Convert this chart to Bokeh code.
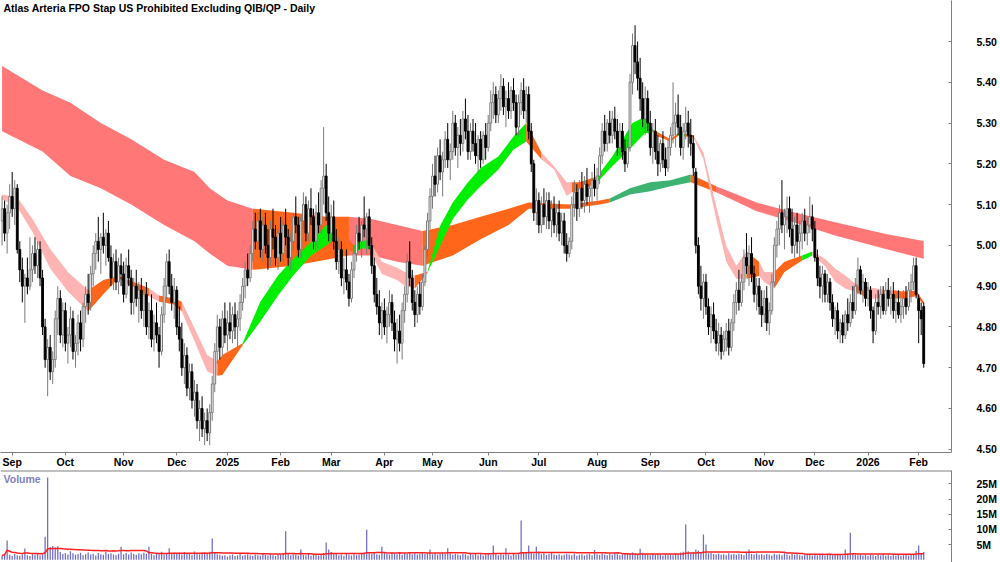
import numpy as np
import pandas as pd
from bokeh.plotting import figure
from bokeh.layouts import column
from bokeh.models import Range1d, FixedTicker, NumeralTickFormatter, Span
from bokeh.core.properties import value
from bokeh.embed import file_html
from bokeh.resources import INLINE

title = "Atlas Arteria FPO Stap US Prohibited Excluding QIB/QP - Daily"
month_idx = [4, 25, 48, 69, 89, 110, 130, 151, 170, 192, 212, 235, 256, 278, 301, 321, 342, 362]
month_lbl = ["Sep", "Oct", "Nov", "Dec", "2025", "Feb", "Mar", "Apr", "May", "Jun",
             "Jul", "Aug", "Sep", "Oct", "Nov", "Dec", "2026", "Feb"]
price_ticks = [4.5, 4.6, 4.7, 4.8, 4.9, 5.0, 5.1, 5.2, 5.3, 5.4, 5.5]
vol_ticks = [5e6, 10e6, 15e6, 20e6, 25e6]
vol_tick_lbl = ["5M", "10M", "15M", "20M", "25M"]

# daily prices in cents
opens_c = [506,509,503,508,512,509,514,499,494,490, 492,490,494,498,495,499,492,480,472,475,
           469,472,482,487,478,484,476,478,482,474, 476,481,477,485,488,486,493,498,501,499,
           502,500,503,497,492,496,491,495,493,488, 495,492,486,490,487,489,484,488,480,484,
           477,481,478,474,483,490,496,490,486,489, 480,477,470,473,465,469,462,464,457,460,
           455,457,454,459,466,474,480,475,482,478, 481,479,483,480,482,486,490,494,492,498,
           504,501,506,499,505,500,497,504,502,497, 503,498,505,502,497,501,507,505,499,506,
           510,503,509,507,501,508,505,514,517,508, 503,507,501,496,499,492,494,491,487,494,
           498,503,501,505,504,507,500,495,488,485, 481,484,480,483,486,481,477,479,476,484,
           488,496,492,486,483,488,485,491,499,506, 512,517,515,522,518,521,526,521,523,530,
           524,527,525,531,528,523,528,525,522,526, 521,527,524,530,535,537,532,536,539,534,
           536,533,538,535,529,535,538,533,537,528, 520,508,511,505,510,507,511,506,509,505,
           508,503,506,500,498,501,510,513,509,514, 511,515,512,514,516,514,517,522,528,525,
           530,527,531,528,524,528,523,520,524,540, 549,545,541,536,531,536,530,524,528,523,
           520,525,521,519,524,527,530,532,529,524, 528,530,527,525,518,500,490,487,491,485,
           480,483,479,476,478,474,477,479,475,481, 486,489,486,491,497,495,498,493,488,490,
           485,483,487,481,484,491,500,504,508,505, 507,509,504,500,505,501,503,506,503,505,
           507,504,497,492,490,493,488,491,486,482, 484,479,481,478,483,481,486,484,490,494,
           489,491,487,489,484,479,486,485,488,484, 489,487,488,484,486,483,485,487,485,489,
           491,495,487,484,485]
highs_c = [512,511,510,515,518,516,515,501,497,493, 497,502,500,502,501,501,494,482,477,478,
           474,484,490,489,486,486,480,485,484,478, 483,484,486,490,493,495,500,503,507,503,
           508,504,506,500,498,499,497,498,496,497, 499,494,492,494,491,492,490,491,486,488,
           483,486,480,485,492,498,499,493,492,490, 485,481,476,475,471,471,467,466,462,463,
           459,460,461,468,476,483,482,484,486,484, 486,485,486,484,488,492,496,498,500,506,
           508,508,509,507,508,504,506,509,505,504, 507,506,509,504,503,508,512,507,507,513,
           512,511,514,509,510,513,516,529,520,512, 510,511,504,502,501,497,499,493,496,500,
           505,507,506,512,508,509,502,497,492,489, 486,487,485,489,488,484,482,483,486,490,
           498,501,494,489,490,491,493,500,508,514, 520,522,524,526,523,528,530,525,533,532,
           529,531,533,536,532,530,531,530,527,528, 528,530,532,538,540,539,538,542,541,538,
           540,539,541,537,537,540,541,539,539,530, 521,514,513,512,514,513,513,511,512,510,
           511,508,508,503,502,512,516,515,516,518, 517,519,516,518,520,519,524,530,532,531,
           533,533,534,531,530,530,526,526,542,552, 554,550,546,540,539,538,533,530,531,527,
           526,528,524,526,529,540,535,537,532,530, 534,533,531,527,519,502,495,493,493,487,
           485,486,482,481,480,479,481,482,482,488, 491,494,493,499,503,500,502,495,492,492,
           489,489,490,486,493,502,506,510,516,509, 512,512,509,507,508,506,508,509,507,512,
           510,506,499,495,495,494,493,492,488,485, 486,482,483,484,487,488,490,492,497,495,
           493,492,491,490,485,488,489,490,490,491, 492,490,491,488,489,487,489,490,491,493,
           497,497,488,486,486]
lows_c = [500,501,498,504,507,505,498,491,486,481, 488,489,491,493,492,490,478,470,463,467,
          466,470,478,476,475,474,471,475,472,470, 473,474,475,481,483,484,490,494,496,493,
          498,495,496,490,489,489,488,490,486,487, 490,483,483,485,481,482,480,478,477,475,
          474,476,470,473,481,487,488,484,482,478, 474,468,466,463,462,460,458,455,452,453,
          451,452,451,457,464,471,472,473,476,474, 477,476,477,475,479,484,487,490,491,496,
          499,499,497,496,498,494,495,499,495,494, 496,496,500,495,494,499,503,497,497,504,
          501,501,505,499,499,503,503,510,506,501, 500,499,494,493,490,488,489,485,486,492,
          496,499,497,502,498,499,493,486,483,478, 477,478,476,480,479,474,471,474,472,481,
          486,490,484,480,481,483,484,490,497,504, 509,512,513,516,512,519,519,516,521,522,
          519,522,523,526,521,521,523,520,518,519, 520,521,523,528,531,530,530,533,532,529,
          531,531,533,527,527,532,531,530,526,518, 506,505,503,503,505,504,504,502,503,502,
          501,500,498,496,497,499,507,506,507,509, 508,510,508,510,512,511,515,520,523,523,
          525,525,526,522,522,521,518,519,523,537, 542,538,533,529,527,528,522,520,521,517,
          518,519,517,518,522,525,524,527,522,521, 526,524,522,517,498,488,484,482,483,478,
          476,477,474,473,472,473,474,473,474,479, 483,484,485,489,493,490,491,486,484,483,
          480,481,479,478,483,490,497,500,503,499, 503,502,498,497,498,497,499,501,500,503,
          501,496,490,487,486,486,486,484,480,478, 477,476,476,477,479,480,482,483,488,488,
          486,485,485,482,476,478,483,482,483,483, 485,483,482,481,482,481,482,483,484,486,
          489,487,476,478,470]
closes_c = [509,503,508,512,509,514,499,494,490,492, 490,494,498,495,499,492,480,472,475,469,
            472,482,487,478,484,476,478,482,474,476, 481,477,485,488,486,493,498,501,499,502,
            500,503,497,492,496,491,495,493,488,495, 492,486,490,487,489,484,488,480,484,477,
            481,478,474,483,490,496,490,486,489,480, 477,470,473,465,469,462,464,457,460,455,
            457,454,459,466,474,480,475,482,478,481, 479,483,480,482,486,490,494,492,498,504,
            501,506,499,505,500,497,504,502,497,503, 498,505,502,497,501,507,505,499,506,510,
            503,509,507,501,508,505,514,517,508,503, 507,501,496,499,492,494,491,487,494,498,
            503,501,505,504,507,500,495,488,485,481, 484,480,483,486,481,477,479,476,484,488,
            496,492,486,483,488,485,491,499,506,512, 517,515,522,518,521,526,521,523,530,524,
            527,525,531,528,523,528,525,522,526,521, 527,524,530,535,537,532,536,539,534,536,
            533,538,535,529,535,538,533,537,528,520, 508,511,505,510,507,511,506,509,505,508,
            503,506,500,498,501,510,513,509,514,511, 515,512,514,516,514,517,522,528,525,530,
            527,531,528,524,528,523,520,524,540,549, 545,541,536,531,536,530,524,528,523,520,
            525,521,519,524,527,530,532,529,524,528, 530,527,525,519,500,490,487,491,485,480,
            483,479,476,478,474,477,479,475,481,486, 489,486,491,497,495,498,493,488,490,485,
            483,487,481,484,491,500,504,508,505,507, 509,504,500,505,501,503,506,503,505,507,
            504,497,492,490,493,488,491,486,482,484, 479,481,478,483,481,486,484,490,494,489,
            491,487,489,484,479,486,485,488,484,489, 487,488,484,486,483,485,487,485,489,491,
            495,488,484,482,471]
# daily volume in units of 0.1M shares
volume_tenths = [14,18,63,16,12,19,15,13,17,37, 15,12,18,16,20,14,17,76,271,42,
                 45,40,44,25,19,22,17,28,21,16, 19,23,15,18,24,17,20,14,22,18,
                 16,25,19,21,17,15,20,43,18,22, 17,24,19,16,21,18,23,20,43,19,
                 15,22,18,26,17,20,38,21,24,19, 23,17,25,19,22,16,27,20,18,24,
                 21,19,26,70,22,18,16,13,15,10, 14,17,12,15,19,13,16,18,14,12,
                 17,15,13,19,16,14,18,15,12,17, 16,19,94,21,15,18,17,14,34,16,
                 15,19,13,17,16,14,18,22,57,34, 25,18,20,15,17,13,19,16,14,18,
                 15,17,20,24,99,21,19,23,18,16, 43,22,19,17,25,20,18,23,16,21,
                 19,24,18,22,17,20,23,19,21,34, 18,22,17,20,24,19,38,21,16,19,
                 17,15,20,18,14,19,16,21,15,18, 14,17,20,16,47,19,15,18,16,38,
                 17,14,19,16,18,129,22,25,47,24, 20,43,23,18,21,16,19,22,17,15,
                 18,14,16,19,17,15,20,13,16,18, 14,17,19,15,32,18,16,20,17,15,
                 19,16,21,18,15,17,20,22,19,24, 21,18,36,23,19,17,15,20,16,18,
                 17,14,19,16,18,15,20,17,24,26, 116,28,22,25,34,30,24,83,50,21,
                 23,19,17,20,16,18,15,21,17,19, 16,20,18,15,22,34,19,17,21,16,
                 18,15,19,17,14,20,16,18,15,21, 17,14,19,16,18,15,13,17,20,16,
                 14,18,15,19,16,13,17,20,15,18, 16,19,14,34,21,89,20,17,15,18,
                 14,16,13,17,15,12,16,14,18,13, 15,12,17,14,16,13,15,18,14,16,
                 19,29,47,22,25]

# long-term moving-average ribbon (edges in cents) and its state
lb_idx = [0, 16, 27, 39, 51, 64, 76, 82, 89, 99, 115, 128, 137, 146, 156, 166, 178, 189, 200, 208,
          224, 236, 240, 248, 256, 264, 272, 282, 288, 298, 311, 329, 349, 364]
lb_top = [544, 538, 535, 530, 526, 521, 518, 514, 511, 509, 508, 507, 507, 506.5, 505, 503.5, 505, 507,
          509, 510.5, 510, 511, 511.5, 514, 515.5, 516, 517.4, 514.5, 513, 510.5, 508.4, 505.7, 502.8, 501.1]
lb_bot = [528, 523, 517, 514, 510, 505, 501, 498, 495, 494, 495, 496.5, 497.5, 497.5, 496, 495, 497.5,
          501.5, 505, 509, 509, 510, 510.5, 512.5, 513.3, 514.5, 515.5, 513, 511.3, 508.4, 506, 502.4, 499.1, 496.7]
lb_state = list("RRRRRRRRROOORRROOOOOOODDDDORRRRRRR")

# short-term moving-average ribbon
sb_idx = [0, 6, 12, 19, 26, 34, 40, 46, 52, 58, 62, 68, 71, 76, 81, 85, 87, 95, 102, 109, 115, 122, 128,
          131, 139, 142, 145, 150, 156, 159, 163, 168, 173, 178, 184, 189, 196, 202, 207, 213, 218, 223,
          225, 228, 235, 241, 249, 254, 257, 264, 267, 270, 273, 277, 282, 286, 290, 294, 299, 301, 305,
          309, 316, 320, 325, 329, 333, 337, 342, 349, 352, 356, 361, 364]
sb_top = [512.5, 511.8, 506.5, 499.1, 493.5, 489, 491.5, 492.5, 491, 489.5, 487.7, 487, 486.2, 479.7,
          473.1, 471.6, 473.1, 476, 486.2, 492.6, 496.7, 500.8, 505, 505.2, 500, 501.2, 501.2, 496, 494.5,
          493.5, 492.6, 493.5, 504.8, 510.5, 515.5, 519, 521.8, 526.7, 530, 522.8, 519.4, 515.5, 515.5,
          515.5, 516.9, 521.8, 530, 531.6, 528.4, 526, 527.5, 527.3, 527, 522.8, 509.7, 499.9, 495, 498.5,
          496, 493.5, 493.5, 496, 497.5, 498.5, 496.7, 494.3, 492.6, 490.6, 489.8, 489, 489, 488.7, 488.9, 486.2]
sb_bot = [511.3, 509.4, 503.3, 494.3, 488.7, 483.8, 488, 492, 489.5, 487.5, 486.2, 485.5, 483.8, 476.5,
          469.1, 468, 468.2, 475.5, 481.3, 487.7, 492.6, 497.5, 500, 501.5, 498, 499.3, 499.1, 493, 491.5,
          490.1, 489.4, 493.3, 499.9, 506.5, 511.3, 514.5, 518.6, 523.5, 525.5, 521.1, 518.6, 512.1, 513,
          513.3, 515.5, 519.4, 524.3, 527.6, 527.2, 525.5, 526.8, 526.7, 526.5, 521.1, 506.5, 496, 491.8, 491.8,
          492.5, 491, 489.4, 493.5, 496.3, 497.5, 495, 491.1, 489.4, 488.7, 487, 487, 487, 487, 487.5, 485.5]
sb_state = list("PPPPP" "OOOO" "POOP" "PPOO" "GGGGGG" "OGGP" "PPPO" "GGGGGGG" "OPPP" "OOGG"
                "GGOO" "GOPP" "PPPO" "PPOO" "GPPP" "POPP" "OOOO")

assert len(opens_c) == len(highs_c) == len(lows_c) == len(closes_c) == len(volume_tenths)
assert len(lb_idx) == len(lb_top) == len(lb_bot) == len(lb_state)
assert len(sb_idx) == len(sb_top) == len(sb_bot) == len(sb_state)

FONT = "Liberation Sans"
GREY = "#808080"
COLORS = {"R": "#FF7777", "P": "#FFB4B4", "O": "#FF661A", "G": "#00EE00", "D": "#3CB371"}

N = len(closes_c)
idx = np.arange(N)
o = np.array(opens_c) / 100.0
h = np.array(highs_c) / 100.0
l = np.array(lows_c) / 100.0
c = np.array(closes_c) / 100.0
vol = np.array(volume_tenths) * 1e5
vol_ma = pd.Series(vol).rolling(40, min_periods=1).mean().values
up = c >= o

x_range = Range1d(-0.62, 374.97)

p = figure(width=1000, height=470, x_range=x_range, y_range=Range1d(4.492, 5.6006),
           y_axis_location="right", output_backend="svg", toolbar_location=None,
           min_border_left=0, min_border_top=0, min_border_right=49, min_border_bottom=15)
p.outline_line_color = None
p.grid.visible = False
p.background_fill_color = "white"
p.border_fill_color = "white"


def band_polys(ix, top, bot, st):
    xs, ys, cols = [], [], []
    s = 0
    n = len(ix)
    for k in range(1, n):
        if k == n - 1 or st[k] != st[s]:
            seg_x = list(ix[s:k + 1])
            xs.append(seg_x + seg_x[::-1])
            ys.append([t / 100.0 for t in top[s:k + 1]] + [b / 100.0 for b in bot[s:k + 1]][::-1])
            cols.append(COLORS[st[s]])
            s = k
    return xs, ys, cols


for ix, top, bot, st in ((lb_idx, lb_top, lb_bot, lb_state), (sb_idx, sb_top, sb_bot, sb_state)):
    xs, ys, cols = band_polys(ix, top, bot, st)
    p.patches(xs, ys, fill_color=cols, line_color=None)

# candles
p.segment(x0=idx[up], y0=l[up], x1=idx[up], y1=h[up], line_color="#7a7a7a", line_width=1)
p.segment(x0=idx[~up], y0=l[~up], x1=idx[~up], y1=h[~up], line_color="black", line_width=1)
p.vbar(x=idx[up], width=0.72, top=np.maximum(o, c)[up], bottom=np.minimum(o, c)[up],
       fill_color="white", line_color="#7a7a7a", line_width=1)
p.vbar(x=idx[~up], width=0.72, top=np.maximum(o, c)[~up], bottom=np.minimum(o, c)[~up],
       fill_color="black", line_color="black", line_width=1)

p.text(x=[0.56], y=[5.596], text=[title], text_font=value(FONT), text_font_style="bold",
       text_font_size="10.5px", text_baseline="top", text_align="left", text_color="black")

xa = p.xaxis[0]
xa.ticker = FixedTicker(ticks=month_idx)
xa.major_label_overrides = {m: s for m, s in zip(month_idx, month_lbl)}
xa.major_label_text_align = "left"
xa.major_label_standoff = 0
xa.major_tick_out = 3
xa.major_tick_in = 0
xa.minor_tick_out = 0
xa.minor_tick_in = 0
xa.axis_line_color = GREY
xa.major_tick_line_color = GREY
xa.major_label_text_font = FONT
xa.major_label_text_font_style = "bold"
xa.major_label_text_font_size = "10.5px"
xa.major_label_text_color = "black"

ya = p.yaxis[0]
ya.ticker = FixedTicker(ticks=price_ticks)
ya.formatter = NumeralTickFormatter(format="0.00")
ya.major_tick_in = 3
ya.major_tick_out = 0
ya.minor_tick_in = 0
ya.minor_tick_out = 0
ya.major_label_standoff = 25
ya.axis_line_color = GREY
ya.major_tick_line_color = GREY
ya.major_label_text_font = FONT
ya.major_label_text_font_style = "bold"
ya.major_label_text_font_size = "10.5px"
ya.major_label_text_color = "black"

# volume panel
pv = figure(width=1000, height=92, x_range=x_range, y_range=Range1d(-0.92e6, 29.4e6),
            y_axis_location="right", x_axis_location=None, output_backend="svg",
            toolbar_location=None, min_border_left=0, min_border_top=0,
            min_border_right=49, min_border_bottom=0)
pv.outline_line_color = None
pv.grid.visible = False
pv.vbar(x=idx, width=0.5, top=vol, bottom=0, fill_color="#6E6EC6", line_color=None)
pv.line(idx, vol_ma, line_color="#FF2020", line_width=1.5)
pv.add_layout(Span(location=29.4e6, dimension="width", line_color=GREY, line_width=2))
pv.text(x=[0.56], y=[28.6e6], text=["Volume"], text_font=value(FONT), text_font_style="bold",
        text_font_size="10.5px", text_baseline="top", text_align="left", text_color="#7F7FBF")

va = pv.yaxis[0]
va.ticker = FixedTicker(ticks=vol_ticks)
va.major_label_overrides = {t: s for t, s in zip(vol_ticks, vol_tick_lbl)}
va.major_tick_in = 3
va.major_tick_out = 0
va.minor_tick_in = 0
va.minor_tick_out = 0
va.major_label_standoff = 25
va.axis_line_color = GREY
va.major_tick_line_color = GREY
va.major_label_text_font = FONT
va.major_label_text_font_style = "bold"
va.major_label_text_font_size = "10.5px"
va.major_label_text_color = "black"

layout = column(p, pv, spacing=0)
open("out.html", "w").write(file_html(layout, INLINE))
